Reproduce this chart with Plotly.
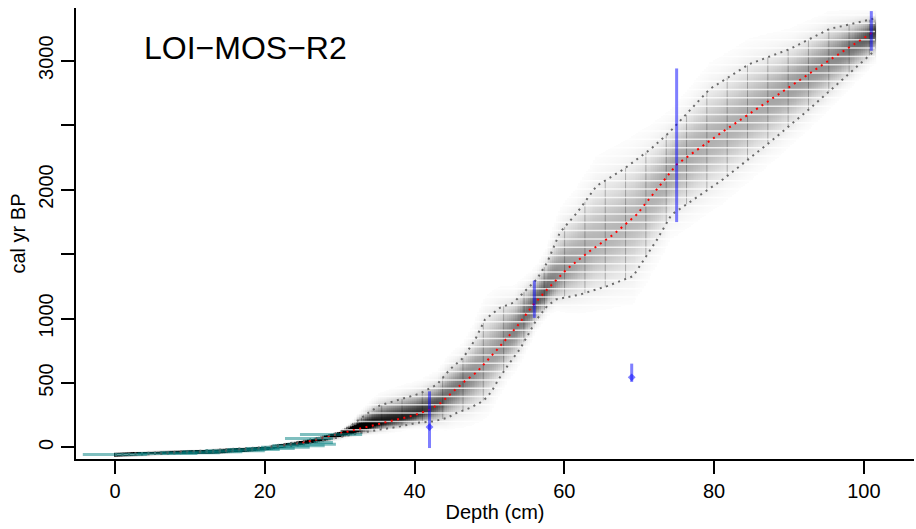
import numpy as np
import plotly.graph_objects as go

# ---------------- age-depth model summary (cal yr BP) ----------------
mean_depth = [0, 6, 14, 20, 25, 29.5, 33, 36, 38, 40, 42, 43.5, 44.7, 46.7, 48.3,
              51.2, 53.7, 55.9, 57.7, 60.3, 63.4, 66.6, 69.7, 72.4, 75, 81, 86,
              91, 95.6, 101.5]
mean_age = [-57, -45, -31, -8, 34, 100, 150, 197, 220, 250, 293, 345, 409, 513, 583,
            770, 940, 1109, 1225, 1381, 1523, 1653, 1808, 2002, 2195, 2443, 2637,
            2831, 3012, 3232]

upper_depth = [0, 10, 20, 25, 28, 30, 31.4, 33.8, 35.4, 38.1, 40.7, 43.0, 44.7,
               46.5, 48.1, 49.4, 51.4, 53.2, 56.3, 57.7, 59.4, 61.7, 64.3, 67.9,
               71.5, 74.0, 79.4, 84.7, 90.1, 95.4, 101.5]
upper_age = [-52, -30, 2, 48, 85, 118, 163, 267, 327, 371, 417, 487, 604,
             695, 837, 992, 1083, 1122, 1303, 1433, 1666, 1821, 2028, 2158,
             2313, 2443, 2779, 2974, 3090, 3246, 3328]

lower_depth = [0, 10, 20, 25, 30, 32.7, 35.4, 38.1, 40.3, 42.5, 44.3, 45.6, 47.4,
               48.7, 49.6, 50.3, 51.2, 52.5, 54.1, 55.0, 56.3, 57.7, 58.9, 62.1,
               65.7, 69.2, 71.0, 72.4, 74.3, 81.2, 87.4, 92.7, 97.2, 101.5]
lower_age = [-62, -42, -15, 20, 80, 112, 138, 163, 190, 202, 228, 267, 306,
             345, 384, 435, 526, 640, 765, 862, 992, 1096, 1148, 1186,
             1251, 1329, 1484, 1614, 1805, 2080, 2365, 2624, 2857, 3080]

# ---------------- dated levels (calibrated ranges) ----------------
date_depth = [42, 56, 69, 75, 101]
date_min = [-5, 1005, 508, 1748, 3077]
date_max = [435, 1295, 650, 2940, 3385]
peak_depth = [42, 69]
peak_age = [158, 544]

# ---------------- surface (210Pb-type) ages: depth span and age ----------------
pb_from = [-4.3, 3.0, 6.0, 9.0, 12.0, 15.0, 17.5, 19.5, 21.0, 23.0, 26.5, 22.7, 24.7]
pb_to = [4.3, 11.0, 14.0, 17.0, 20.0, 22.0, 24.0, 26.0, 28.0, 29.5, 29.1, 29.1, 33.0]
pb_age = [-55, -47, -41, -34, -26, -17, -8, 2, 12, 24, 38, 70, 101]

core_name = "LOI\u2212MOS\u2212R2"

# ---------------- greyscale model density ----------------
dgrid = np.arange(0, 101.5 + 1e-9, 0.25)
agrid = np.arange(-100, 3500, 5.0)
m = np.interp(dgrid, mean_depth, mean_age)
u = np.interp(dgrid, upper_depth, upper_age)
lo = np.interp(dgrid, lower_depth, lower_age)
su = np.maximum((u - m) / 1.96, 6)
sl = np.maximum((m - lo) / 1.96, 6)
A = agrid[:, None]
s = np.where(A >= m[None, :], su[None, :], sl[None, :])
pdf = 2.0 / (np.sqrt(2 * np.pi) * (su + sl))[None, :] * np.exp(-0.5 * ((A - m[None, :]) / s) ** 2)
z = np.clip(pdf * 113, 0, 1) ** 0.8
z = np.round(z, 3)
z = np.where(z < 0.01, np.nan, z)

fig = go.Figure()
fig.add_trace(go.Heatmap(x=dgrid, y=agrid, z=z, zmin=0, zmax=1,
                         colorscale=[[0, "white"], [1, "black"]],
                         showscale=False, hoverinfo="skip"))

# section boundaries inside the model envelope
sec_depths = 32.9 + 2.714 * np.arange(-12, 26)
vx, vy = [], []
for d in sec_depths:
    if d < 0 or d > 101.5:
        continue
    uu = np.interp(d, upper_depth, upper_age)
    ll = np.interp(d, lower_depth, lower_age)
    vx += [d, d, None]
    vy += [ll, uu, None]
fig.add_trace(go.Scatter(x=vx, y=vy, mode="lines",
                         line=dict(color="rgba(0,0,0,0.25)", width=1), hoverinfo="skip"))

# light horizontal banding of the age grid
band_ages = 2197 + 64.36 * np.arange(-35, 20)
hx, hy = [], []
for a in band_ages:
    hx += [0, 101.5, None]
    hy += [a, a, None]
fig.add_trace(go.Scatter(x=hx, y=hy, mode="lines",
                         line=dict(color="rgba(255,255,255,0.75)", width=1.5), hoverinfo="skip"))

# 95% range and mean (mean drawn below the surface section)
mean_x = [d for d in mean_depth if d >= 6]
mean_y = [a for d, a in zip(mean_depth, mean_age) if d >= 6]
fig.add_trace(go.Scatter(x=upper_depth, y=upper_age, mode="lines",
                         line=dict(color="#6a6a6a", width=2, dash="2px,4.5px"), hoverinfo="skip"))
fig.add_trace(go.Scatter(x=lower_depth, y=lower_age, mode="lines",
                         line=dict(color="#6a6a6a", width=2, dash="2px,4.5px"), hoverinfo="skip"))
fig.add_trace(go.Scatter(x=mean_x, y=mean_y, mode="lines",
                         line=dict(color="red", width=2, dash="2px,4.5px"), hoverinfo="skip"))

# surface ages
for f, t, a in zip(pb_from, pb_to, pb_age):
    fig.add_trace(go.Scatter(x=[f, t], y=[a, a], mode="lines",
                             line=dict(color="rgba(0,128,128,0.5)", width=3), hoverinfo="skip"))

# calibrated dates
for d, a0, a1 in zip(date_depth, date_min, date_max):
    fig.add_trace(go.Scatter(x=[d, d], y=[a0, a1], mode="lines",
                             line=dict(color="rgba(0,0,255,0.5)", width=3), hoverinfo="skip"))
fig.add_trace(go.Scatter(x=peak_depth, y=peak_age, mode="markers",
                         marker=dict(color="rgba(0,0,255,0.5)", size=6, symbol="diamond"),
                         hoverinfo="skip"))

fig.add_annotation(text=core_name, xref="paper", yref="paper", x=0.0788, y=0.912,
                   xanchor="left", yanchor="middle", showarrow=False,
                   font=dict(size=32, color="black", family="Liberation Sans, Arial"))

fig.update_layout(
    width=916, height=529,
    margin=dict(l=76, r=2, t=8, b=70),
    plot_bgcolor="white", paper_bgcolor="white",
    showlegend=False,
    font=dict(family="Liberation Sans, Arial", size=20, color="black"),
)
fig.update_xaxes(range=[-5.21, 106.7], tickvals=[0, 20, 40, 60, 80, 100],
                 ticks="outside", ticklen=13, tickwidth=2, tickcolor="black",
                 showline=True, linewidth=2, linecolor="black", showgrid=False,
                 zeroline=False, title=dict(text="Depth (cm)", standoff=4,
                                            font=dict(size=20)),
                 tickfont=dict(size=20))
fig.update_yaxes(range=[-90, 3409], tickvals=[0, 500, 1000, 1500, 2000, 2500, 3000],
                 ticktext=["0", "500", "1000", "", "2000", "", "3000"],
                 tickangle=-90,
                 ticks="outside", ticklen=13, tickwidth=2, tickcolor="black",
                 showline=True, linewidth=2, linecolor="black", showgrid=False,
                 zeroline=False, title=dict(text="cal yr BP", standoff=4,
                                            font=dict(size=20)),
                 tickfont=dict(size=20))

fig.write_html("out.html")
